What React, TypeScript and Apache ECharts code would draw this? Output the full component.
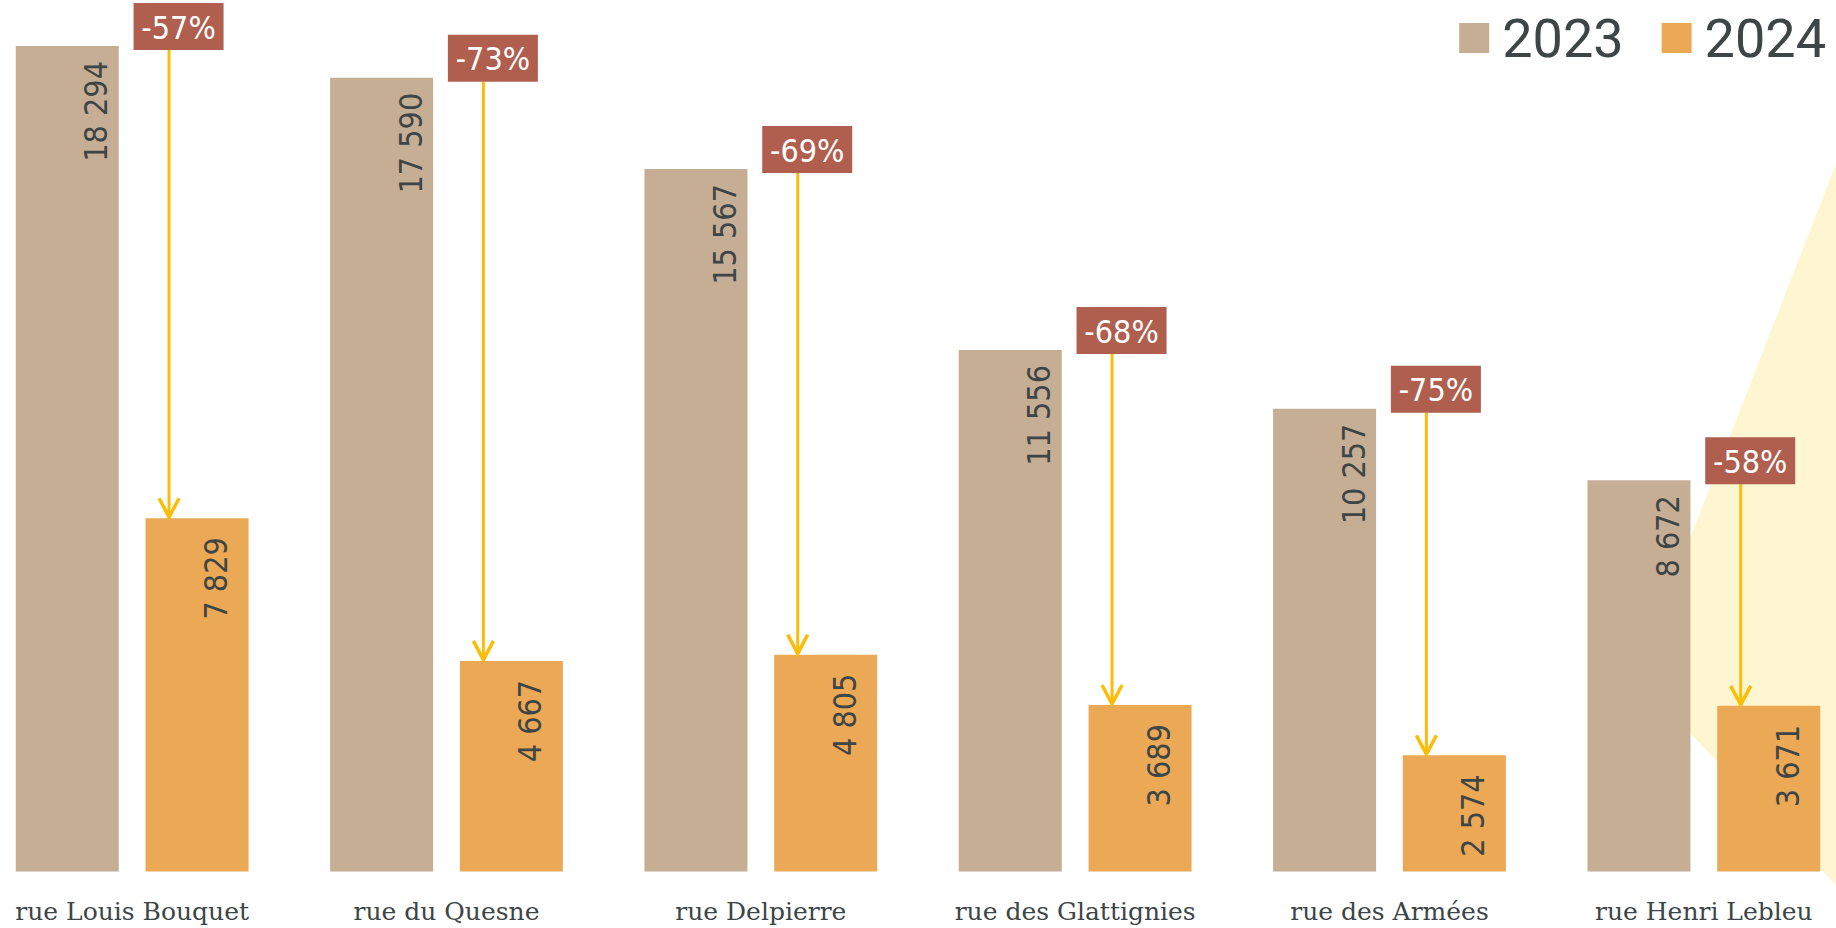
import React, { useEffect, useRef } from 'react';
import * as echarts from 'echarts';

const categories = [
  'rue Louis Bouquet',
  'rue du Quesne',
  'rue Delpierre',
  'rue des Glattignies',
  'rue des Armées',
  'rue Henri Lebleu',
];
const seriesNames = ['2023', '2024'];
const values2023 = [18294, 17590, 15567, 11556, 10257, 8672];
const values2024 = [7829, 4667, 4805, 3689, 2574, 3671];
const changeLabels = ['-57%', '-73%', '-69%', '-68%', '-75%', '-58%'];

const NARROW = "'Liberation Sans Narrow', 'DejaVu Sans Condensed', sans-serif";
const TEXT_COLOR = '#3d4547';
const COLOR_2023 = '#c6ae94';
const COLOR_2024 = '#eba855';
const BOX_COLOR = '#b05e4e';
const ARROW_COLOR = '#fbbd08';

const BAR_W = 103;
const BAR_GAP = 0.26;
// the chart canvas is a little wider than the page and is cropped by the wrapper
const BLEED = 25;

const fmt = (n: number) => String(n).replace(/\B(?=(\d{3})+(?!\d))/g, ' ');

export default function App() {
  const ref = useRef<HTMLDivElement>(null);
  useEffect(() => {
    const chart = echarts.init(ref.current!, null, { renderer: 'svg' });
    const option: any = {
      animation: false,
      backgroundColor: '#ffffff',
      textStyle: { fontFamily: NARROW },
      legend: {
        data: seriesNames,
        right: 5 + BLEED,
        top: 6,
        icon: 'rect',
        itemWidth: 30,
        itemHeight: 30,
        itemGap: 38,
        selectedMode: false,
        textStyle: {
          fontSize: 54,
          fontFamily: 'Roboto',
          color: TEXT_COLOR,
          padding: [0, 0, 0, 8],
        },
      },
      graphic: [
        {
          type: 'polygon',
          z: -10,
          silent: true,
          shape: {
            points: [
              [1636 + BLEED, 677],
              [1836 + BLEED, 164],
              [1836 + BLEED, 885],
            ],
          },
          style: { fill: '#fdf6d0' },
        },
      ],
      grid: { left: 0, right: 0, top: 46, bottom: 56.5, containLabel: false },
      xAxis: {
        type: 'category',
        data: categories,
        axisLine: { show: false },
        axisTick: { show: false },
        axisLabel: {
          margin: 27,
          fontSize: 25,
          fontFamily: "'DejaVu Serif', serif",
          color: TEXT_COLOR,
          interval: 0,
        },
      },
      yAxis: {
        type: 'value',
        min: 0,
        max: (v: any) => v.max,
        show: false,
        splitLine: { show: false },
      },
      series: [
        {
          name: '2023',
          type: 'bar',
          data: values2023,
          barWidth: BAR_W,
          barGap: BAR_GAP * 100 + '%',
          itemStyle: { color: COLOR_2023 },
          label: {
            show: true,
            position: 'insideTop',
            rotate: 90,
            align: 'right',
            verticalAlign: 'middle',
            distance: 15,
            offset: [0, 29],
            fontSize: 32,
            fontFamily: NARROW,
            color: TEXT_COLOR,
            formatter: (p: any) => fmt(p.value),
          },
        },
        {
          name: '2024',
          type: 'bar',
          data: values2024,
          barWidth: BAR_W,
          barGap: BAR_GAP * 100 + '%',
          itemStyle: { color: COLOR_2024 },
          label: {
            show: true,
            position: 'insideTop',
            rotate: 90,
            align: 'right',
            verticalAlign: 'middle',
            distance: 19,
            offset: [0, 19],
            fontSize: 32,
            fontFamily: NARROW,
            color: TEXT_COLOR,
            formatter: (p: any) => fmt(p.value),
          },
        },
        {
          name: 'change',
          type: 'custom',
          z: 5,
          clip: false,
          encode: { x: 0, y: 1 },
          data: values2023.map((v, i) => [i, v, values2024[i]]),
          renderItem: (params: any, api: any) => {
            const i = api.value(0);
            const cx = api.coord([i, 0])[0];
            const top23 = api.coord([i, api.value(1)])[1];
            const top24 = api.coord([i, api.value(2)])[1];
            const ax = cx + (BAR_W * BAR_GAP) / 2 + 23.5;
            const boxW = 90;
            const boxH = 47;
            const boxCx = ax + 9.5;
            const boxBottom = top23 + 4;
            const tipY = top24 - 1;
            return {
              type: 'group',
              children: [
                {
                  type: 'line',
                  shape: { x1: ax, y1: boxBottom, x2: ax, y2: tipY },
                  style: { stroke: ARROW_COLOR, lineWidth: 3 },
                },
                {
                  type: 'polyline',
                  shape: { points: [[ax - 10, tipY - 19], [ax, tipY], [ax + 10, tipY - 19]] },
                  style: { stroke: ARROW_COLOR, lineWidth: 3.5, fill: null },
                },
                {
                  type: 'rect',
                  shape: { x: boxCx - boxW / 2, y: boxBottom - boxH, width: boxW, height: boxH },
                  style: { fill: BOX_COLOR },
                },
                {
                  type: 'text',
                  style: {
                    text: changeLabels[params.dataIndex],
                    x: boxCx,
                    y: boxBottom - boxH / 2 + 1,
                    fill: '#ffffff',
                    fontSize: 32,
                    fontFamily: NARROW,
                    align: 'center',
                    verticalAlign: 'middle',
                  },
                },
              ],
            };
          },
        },
      ],
    };
    chart.setOption(option);
    return () => chart.dispose();
  }, []);
  return (
    <div
      style={{
        position: 'absolute',
        left: 0,
        top: 0,
        width: 1836,
        height: 928,
        overflow: 'hidden',
        background: '#ffffff',
      }}
    >
      <div
        ref={ref}
        style={{ position: 'absolute', left: -BLEED, top: 0, width: 1836 + 2 * BLEED, height: 928 }}
      />
    </div>
  );
}
